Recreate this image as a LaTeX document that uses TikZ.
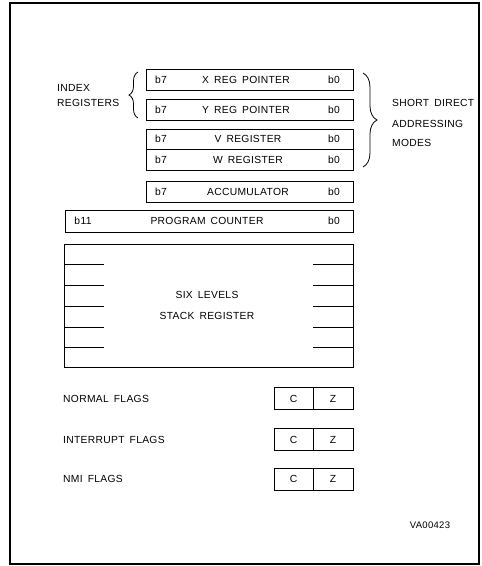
\documentclass[tikz,border=0pt]{standalone}
\usepackage{fontspec}
\setmainfont{Liberation Sans}[LetterSpace=3,WordSpace=1.6]
\usetikzlibrary{decorations.pathreplacing}
\begin{document}
\begin{tikzpicture}[x=1pt,y=-1pt,
  box/.style={draw, line width=0.9pt, inner sep=0pt, outer sep=0pt},
  frm/.style={draw, line width=1.1pt, inner sep=0pt, outer sep=0pt},
  lbl/.style={inner sep=0pt, font=\fontsize{10.3}{12}\selectfont},
  llbl/.style={lbl, anchor=west},
  brc/.style={decorate, line width=0.8pt, decoration={brace, amplitude=#1}},
  tick/.style={line width=0.9pt}]
\useasboundingbox (0,0) rectangle (482,566);
% outer frame
\node[frm, minimum width=469pt, minimum height=561pt] (frame) at (244.5,283.5) {};
% 8-bit registers
\node[box, minimum width=207pt, minimum height=21pt] (xr) at (249.5,79.5) {};
\node[box, minimum width=207pt, minimum height=21pt] (yr) at (249.5,109.5) {};
\node[box, minimum width=207pt, minimum height=20.5pt] (vr) at (249.5,139.25) {};
\node[box, minimum width=207pt, minimum height=20.5pt] (wr) at (249.5,159.75) {};
\node[box, minimum width=207pt, minimum height=21pt] (acc) at (249.5,191.5) {};
\node[box, minimum width=288pt, minimum height=22pt] (pc) at (209,221) {};
\foreach \r/\t/\cx in {xr/X REG POINTER/246, yr/Y REG POINTER/246, vr/V REGISTER/248, wr/W REGISTER/248, acc/ACCUMULATOR/248}{
  \node[lbl] (\r-hi) at (161,0 |- \r.center) {b7};
  \node[lbl] (\r-nm) at (\cx,0 |- \r.center) {\t};
  \node[lbl] (\r-lo) at (334,0 |- \r.center) {b0};
}
\node[lbl] (pc-hi) at (83,0 |- pc.center) {b11};
\node[lbl] (pc-nm) at (207,0 |- pc.center) {PROGRAM COUNTER};
\node[lbl] (pc-lo) at (334,0 |- pc.center) {b0};
% stack
\node[box, minimum width=289pt, minimum height=123pt] (stk) at (208.5,305.5) {};
\foreach \y in {264,285,306,327,347}{
  \draw[tick] (64,\y) -- (104,\y);
  \draw[tick] (313,\y) -- (353,\y);
}
\node[lbl] (stk1) at (207,295) {SIX LEVELS};
\node[lbl] (stk2) at (207,316) {STACK REGISTER};
% braces
\draw[brc=9pt] (138,118) -- (138,72);
\node[llbl] (idx1) at (57,88) {INDEX};
\node[llbl] (idx2) at (57,103) {REGISTERS};
\draw[brc=14pt] (363,73) -- (363,167);
\node[llbl] (sd1) at (392,103) {SHORT DIRECT};
\node[llbl] (sd2) at (392,124) {ADDRESSING};
\node[llbl] (sd3) at (392,143) {MODES};
% flags
\foreach \f/\y/\t in {nf/398.5/NORMAL FLAGS, if/439.5/INTERRUPT FLAGS, mf/479/NMI FLAGS}{
  \node[box, minimum width=39pt, minimum height=22pt] (\f-c) at (293.5,\y) {};
  \node[box, minimum width=40pt, minimum height=22pt, anchor=west] (\f-z) at (\f-c.east) {};
  \node[lbl] at (\f-c.center) {C};
  \node[lbl] at (\f-z.center) {Z};
  \node[llbl] (\f-l) at (63,\y) {\t};
}
\node[lbl, font=\fontsize{9.5}{11}\selectfont] (ref) at (430,525) {VA00423};
\end{tikzpicture}
\end{document}
